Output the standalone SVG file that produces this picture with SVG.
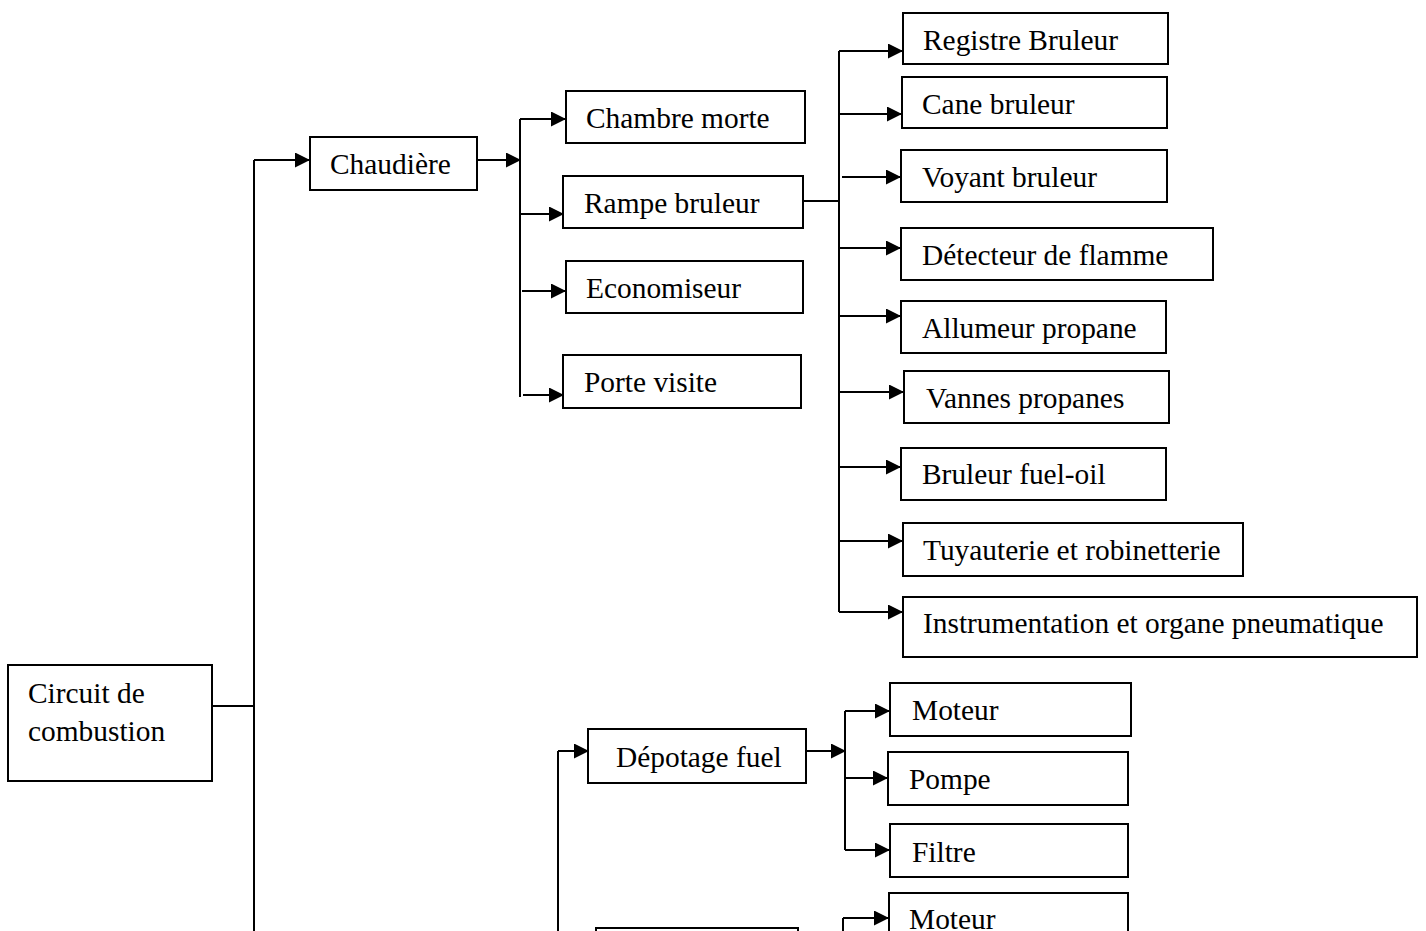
<svg xmlns="http://www.w3.org/2000/svg" width="1426" height="931" viewBox="0 0 1426 931">
  <style>
    .box { fill: #ffffff; stroke: #000000; stroke-width: 2; }
    .lbl { font-family: "Liberation Serif", "Times New Roman", serif; font-size: 29.4px; fill: #000000; }
    .wire { fill: none; stroke: #000000; stroke-width: 2; }
    .arr { fill: none; stroke: #000000; stroke-width: 2; marker-end: url(#head); }
  </style>
  <defs>
    <marker id="head" markerUnits="userSpaceOnUse" markerWidth="16" markerHeight="16" refX="14" refY="7.5" orient="auto">
      <path d="M0,0 L15,7.5 L0,15 Z" fill="#000000"/>
    </marker>
  </defs>
  <rect width="1426" height="931" fill="#ffffff"/>

  <g id="connectors">
    <!-- main trunk -->
    <path class="wire" d="M212,706 H254 M254,160 V931"/>
    <path class="arr" d="M254,160 H309"/>
    <!-- second trunk towards Dépotage fuel -->
    <path class="wire" d="M558,751 V931"/>
    <path class="arr" d="M558,751 H588"/>
    <!-- Chaudière branches -->
    <path class="arr" d="M477,160 H520"/>
    <path class="wire" d="M520,119 V397"/>
    <path class="arr" d="M520,119 H565"/>
    <path class="arr" d="M520,214 H563"/>
    <path class="arr" d="M522,291 H565"/>
    <path class="arr" d="M523,395 H563"/>
    <!-- Rampe bruleur branches -->
    <path class="wire" d="M803,201 H839 M839,51 V612"/>
    <path class="arr" d="M839,51 H902"/>
    <path class="arr" d="M839,114 H901"/>
    <path class="arr" d="M842,177 H900"/>
    <path class="arr" d="M839,248 H900"/>
    <path class="arr" d="M839,316 H900"/>
    <path class="arr" d="M839,392 H903"/>
    <path class="arr" d="M839,467 H900"/>
    <path class="arr" d="M839,541 H902"/>
    <path class="arr" d="M839,612 H902"/>
    <!-- Dépotage fuel branches -->
    <path class="arr" d="M806,751 H845"/>
    <path class="wire" d="M845,711 V850"/>
    <path class="arr" d="M845,711 H889"/>
    <path class="arr" d="M845,778 H887"/>
    <path class="arr" d="M845,850 H889"/>
    <!-- lower group -->
    <path class="wire" d="M843,918 V931"/>
    <path class="arr" d="M843,918 H888"/>
  </g>

  <g id="n-circuit">
    <rect class="box" x="8" y="665" width="204" height="116"/>
    <text class="lbl" x="28" y="703">Circuit de</text>
    <text class="lbl" x="28" y="741">combustion</text>
  </g>
  <g id="n-chaudiere">
    <rect class="box" x="310" y="137" width="167" height="53"/>
    <text class="lbl" x="330" y="174">Chaudière</text>
  </g>
  <g id="n-chambre">
    <rect class="box" x="566" y="91" width="239" height="52"/>
    <text class="lbl" x="586" y="128">Chambre morte</text>
  </g>
  <g id="n-rampe">
    <rect class="box" x="563" y="176" width="240" height="52"/>
    <text class="lbl" x="584" y="213">Rampe bruleur</text>
  </g>
  <g id="n-economiseur">
    <rect class="box" x="566" y="261" width="237" height="52"/>
    <text class="lbl" x="586" y="298">Economiseur</text>
  </g>
  <g id="n-porte">
    <rect class="box" x="563" y="355" width="238" height="53"/>
    <text class="lbl" x="584" y="392">Porte visite</text>
  </g>
  <g id="n-registre">
    <rect class="box" x="903" y="13" width="265" height="51"/>
    <text class="lbl" x="923" y="50">Registre Bruleur</text>
  </g>
  <g id="n-cane">
    <rect class="box" x="902" y="77" width="265" height="51"/>
    <text class="lbl" x="922" y="114">Cane bruleur</text>
  </g>
  <g id="n-voyant">
    <rect class="box" x="901" y="150" width="266" height="52"/>
    <text class="lbl" x="922" y="187">Voyant bruleur</text>
  </g>
  <g id="n-detecteur">
    <rect class="box" x="901" y="228" width="312" height="52"/>
    <text class="lbl" x="922" y="265">Détecteur de flamme</text>
  </g>
  <g id="n-allumeur">
    <rect class="box" x="901" y="301" width="265" height="52"/>
    <text class="lbl" x="922" y="338">Allumeur propane</text>
  </g>
  <g id="n-vannes">
    <rect class="box" x="904" y="371" width="265" height="52"/>
    <text class="lbl" x="926" y="408">Vannes propanes</text>
  </g>
  <g id="n-bruleur-fuel">
    <rect class="box" x="901" y="448" width="265" height="52"/>
    <text class="lbl" x="922" y="484">Bruleur fuel-oil</text>
  </g>
  <g id="n-tuyauterie">
    <rect class="box" x="903" y="523" width="340" height="53"/>
    <text class="lbl" x="923" y="560">Tuyauterie et robinetterie</text>
  </g>
  <g id="n-instrumentation">
    <rect class="box" x="903" y="597" width="514" height="60"/>
    <text class="lbl" x="923" y="633">Instrumentation et organe pneumatique</text>
  </g>
  <g id="n-depotage">
    <rect class="box" x="588" y="729" width="218" height="54"/>
    <text class="lbl" x="616" y="767">Dépotage fuel</text>
  </g>
  <g id="n-moteur">
    <rect class="box" x="890" y="683" width="241" height="53"/>
    <text class="lbl" x="912" y="720">Moteur</text>
  </g>
  <g id="n-pompe">
    <rect class="box" x="888" y="752" width="240" height="53"/>
    <text class="lbl" x="909" y="789">Pompe</text>
  </g>
  <g id="n-filtre">
    <rect class="box" x="890" y="824" width="238" height="53"/>
    <text class="lbl" x="912" y="862">Filtre</text>
  </g>
  <g id="n-moteur-2">
    <rect class="box" x="889" y="893" width="239" height="53"/>
    <text class="lbl" x="909" y="929">Moteur</text>
  </g>
  <g id="n-lower">
    <rect class="box" x="596" y="928" width="202" height="53"/>
  </g>
</svg>
